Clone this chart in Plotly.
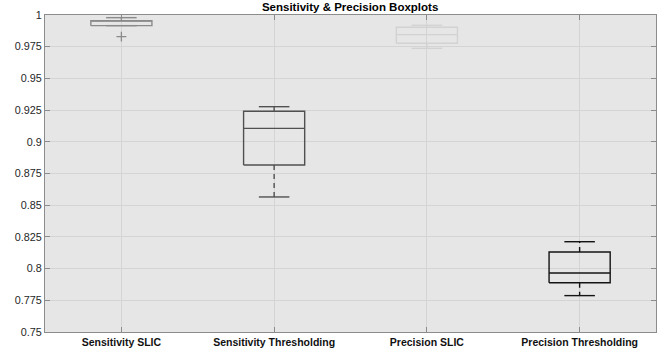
import plotly.graph_objects as go

categories = ["Sensitivity SLIC", "Sensitivity Thresholding", "Precision SLIC", "Precision Thresholding"]
upper_adjacent = [0.9979, 0.9277, 0.9919, 0.8212]
q3 = [0.9955, 0.9241, 0.9903, 0.8131]
median = [0.9953, 0.9106, 0.9845, 0.7965]
q1 = [0.9916, 0.8817, 0.9777, 0.7888]
lower_adjacent = [0.9916, 0.8565, 0.9737, 0.7787]
outliers = [[0.9829], [], [], []]
box_colors = ["#8a8a8a", "#505050", "#d2d2d2", "#141414"]

y_ticks = [0.75, 0.775, 0.8, 0.825, 0.85, 0.875, 0.9, 0.925, 0.95, 0.975, 1.0]
y_tick_labels = ["0.75", "0.775", "0.8", "0.825", "0.85", "0.875", "0.9", "0.925", "0.95", "0.975", "1"]

HALF = 0.2
CAP = 0.1
LW = 1.4

fig = go.Figure()
for i, cat in enumerate(categories):
    x = i + 1
    c = box_colors[i]
    # dashed whiskers
    for a, b in [(q3[i], upper_adjacent[i]), (q1[i], lower_adjacent[i])]:
        if abs(a - b) > 1e-9:
            fig.add_trace(go.Scatter(x=[x, x], y=[a, b], mode="lines",
                                     line=dict(color=c, width=LW, dash="5px,4px"),
                                     showlegend=False, hoverinfo="skip"))
    # caps
    for v in [upper_adjacent[i], lower_adjacent[i]]:
        fig.add_trace(go.Scatter(x=[x - CAP, x + CAP], y=[v, v], mode="lines",
                                 line=dict(color=c, width=LW),
                                 showlegend=False, hoverinfo="skip"))
    # box
    fig.add_trace(go.Scatter(x=[x - HALF, x + HALF, x + HALF, x - HALF, x - HALF],
                             y=[q1[i], q1[i], q3[i], q3[i], q1[i]], mode="lines",
                             line=dict(color=c, width=LW),
                             showlegend=False, hoverinfo="skip"))
    # median
    fig.add_trace(go.Scatter(x=[x - HALF, x + HALF], y=[median[i], median[i]], mode="lines",
                             line=dict(color=c, width=LW),
                             showlegend=False, hoverinfo="skip"))
    if outliers[i]:
        fig.add_trace(go.Scatter(x=[x] * len(outliers[i]), y=outliers[i], mode="markers",
                                 marker=dict(symbol="cross-thin", size=7,
                                             line=dict(color=c, width=1.3)),
                                 showlegend=False, hoverinfo="skip"))

axis_col = "#8c8c8c"
fig.update_layout(
    width=660, height=356,
    margin=dict(l=45, r=4, t=15, b=24, autoexpand=False),
    paper_bgcolor="white", plot_bgcolor="#e6e6e6",
    font=dict(family="Liberation Sans, Arial, sans-serif", size=10.5, color="#262626"),
    title=dict(text="<b>Sensitivity & Precision Boxplots</b>", x=0.5305, xanchor="center",
               y=0.981, yanchor="middle", font=dict(size=11.5, color="#000000")),
    showlegend=False,
)
fig.update_xaxes(range=[0.5, 4.5], tickvals=[1, 2, 3, 4],
                 ticktext=["<b>" + c + "</b>" for c in categories],
                 showgrid=True, gridcolor="#d4d4d4", gridwidth=1, automargin=False,
                 showline=True, linecolor=axis_col, linewidth=1, mirror="ticks",
                 ticks="inside", ticklen=5, tickcolor=axis_col,
                 tickfont=dict(size=10.5, color="#111111"), zeroline=False)
fig.update_yaxes(range=[0.75, 1.0], tickvals=y_ticks, ticktext=y_tick_labels,
                 showgrid=True, gridcolor="#d4d4d4", gridwidth=1, automargin=False,
                 showline=True, linecolor=axis_col, linewidth=1, mirror="ticks",
                 ticks="inside", ticklen=5, tickcolor=axis_col,
                 tickfont=dict(size=10.8, color="#262626"), zeroline=False)

fig.write_html("out.html", config={"displayModeBar": False},
               post_script="document.body.style.margin='0';document.body.style.overflow='hidden';")
